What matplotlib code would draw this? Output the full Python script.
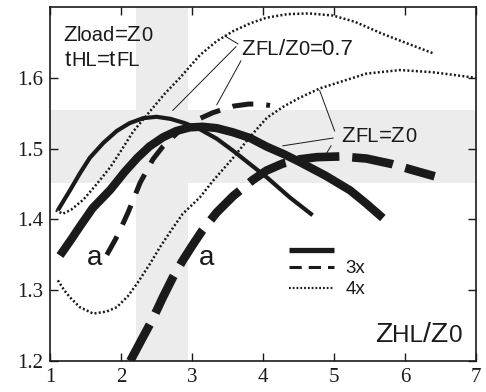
import matplotlib
matplotlib.use("Agg")
import matplotlib.pyplot as plt
from matplotlib.offsetbox import TextArea, HPacker, AnnotationBbox

plt.rcParams['font.family'] = 'serif'
plt.rcParams['font.serif'] = ['Liberation Serif', 'DejaVu Serif']

# ZFL/Z0 = 0.7, 3x (thin solid)
x_thin = [1.11, 1.28, 1.42, 1.56, 1.75, 1.94, 2.12, 2.31, 2.50, 2.70, 2.90, 3.10,
          3.35, 3.58, 3.82, 4.06, 4.38, 4.70]
y_thin = [1.413, 1.441, 1.465, 1.487, 1.508, 1.525, 1.536, 1.543, 1.545, 1.542, 1.536,
          1.528, 1.514, 1.497, 1.478, 1.459, 1.431, 1.406]

# ZFL = Z0, 3x (thick solid)
x_thick = [1.14, 1.30, 1.42, 1.60, 1.85, 2.05, 2.23, 2.40, 2.59, 2.78, 2.97, 3.15,
           3.35, 3.58, 3.82, 4.05, 4.30, 4.52, 4.88, 5.23, 5.45, 5.69]
y_thick = [1.349, 1.372, 1.390, 1.416, 1.442, 1.467, 1.487, 1.503, 1.516, 1.525, 1.530,
           1.531, 1.529, 1.523, 1.515, 1.503, 1.492, 1.481, 1.462, 1.441, 1.423, 1.402]

# ZFL/Z0 = 0.7, 3x "a" (medium dashed)
x_dash07 = [1.80, 1.95, 2.10, 2.27, 2.45, 2.59, 2.80, 3.01, 3.30, 3.58, 3.80, 3.96, 4.10]
y_dash07 = [1.350, 1.377, 1.410, 1.452, 1.485, 1.503, 1.523, 1.538, 1.551, 1.560, 1.563,
            1.563, 1.561]

# ZFL = Z0, 3x "a" (thick dashed)
x_dash1 = [2.13, 2.30, 2.45, 2.59, 2.73, 2.87, 3.01, 3.15, 3.35, 3.58, 3.86, 4.05, 4.28,
           4.52, 4.76, 5.10, 5.46, 5.83, 6.10, 6.42]
y_dash1 = [1.200, 1.232, 1.260, 1.290, 1.318, 1.342, 1.364, 1.385, 1.410, 1.433, 1.456,
           1.469, 1.479, 1.485, 1.488, 1.489, 1.486, 1.478, 1.470, 1.461]

# ZFL/Z0 = 0.7, 4x (dotted, upper)
x_dot07 = [1.08, 1.18, 1.30, 1.47, 1.65, 1.85, 2.00, 2.17, 2.41, 2.62, 2.83, 3.11, 3.35,
           3.58, 3.82, 4.05, 4.35, 4.65, 4.99, 5.30, 5.69, 6.05, 6.39]
y_dot07 = [1.413, 1.408, 1.414, 1.428, 1.449, 1.474, 1.497, 1.524, 1.553, 1.578, 1.600,
           1.632, 1.652, 1.666, 1.677, 1.685, 1.690, 1.691, 1.688, 1.679, 1.662, 1.648,
           1.635]

# ZFL = Z0, 4x (dotted, lower)
x_dot1 = [1.11, 1.20, 1.28, 1.42, 1.61, 1.80, 1.94, 2.10, 2.23, 2.40, 2.55, 2.71, 2.87,
          3.11, 3.30, 3.58, 3.82, 4.06, 4.30, 4.52, 4.80, 5.08, 5.46, 5.93, 6.39, 6.70,
          7.00]
y_dot1 = [1.314, 1.300, 1.290, 1.276, 1.267, 1.270, 1.276, 1.292, 1.310, 1.336, 1.361,
          1.385, 1.408, 1.431, 1.455, 1.487, 1.517, 1.544, 1.560, 1.572, 1.585, 1.594,
          1.606, 1.611, 1.608, 1.604, 1.600]

band_x = (2.21, 2.94)
band_y = (1.451, 1.554)

INK = '#1a1a1a'
SANS = 'Liberation Sans'
SERIF = 'Liberation Serif'


def sub_label(ax, parts, xy, big, small):
    kids = []
    for txt, is_sub in parts:
        kids.append(TextArea(txt, textprops=dict(fontsize=small if is_sub else big,
                                                 family=SANS, color=INK)))
    box = HPacker(children=kids, align='baseline', pad=0, sep=0)
    ab = AnnotationBbox(box, xy, xycoords='data', box_alignment=(0, 0),
                        frameon=False, pad=0, zorder=6)
    ax.add_artist(ab)


fig = plt.figure(figsize=(4.86, 3.92), dpi=100)
ax = fig.add_axes([0.103, 0.079, 0.876, 0.903])

ax.axvspan(*band_x, color='#ececec', lw=0, zorder=0)
ax.axhspan(*band_y, color='#ececec', lw=0, zorder=0)

ax.plot(x_dot07, y_dot07, color=INK, lw=1.8, ls=(0, (0.8, 0.9)), zorder=3)
ax.plot(x_dot1, y_dot1, color=INK, lw=1.8, ls=(0, (0.8, 0.9)), zorder=3)
ax.plot(x_thin, y_thin, color=INK, lw=3.0, solid_capstyle='butt', zorder=4)
ax.plot(x_thick, y_thick, color=INK, lw=6.0, solid_capstyle='butt', zorder=4)
ax.plot(x_dash07, y_dash07, color=INK, lw=3.6, ls=(0, (4.2, 2.6)),
        dash_capstyle='butt', zorder=4)
ax.plot(x_dash1, y_dash1, color=INK, lw=6.2, ls=(0, (4.8, 1.5)),
        dash_capstyle='butt', zorder=4)

# leader lines
lk = dict(color=INK, lw=0.7, zorder=5)
ax.plot([3.648, 3.465], [1.648, 1.659], **lk)
ax.plot([3.62, 2.73], [1.644, 1.554], **lk)
ax.plot([3.69, 3.35], [1.624, 1.562], **lk)
ax.plot([5.01, 4.80], [1.525, 1.582], **lk)
ax.plot([4.99, 4.28], [1.515, 1.504], **lk)
ax.plot([4.96, 4.90], [1.504, 1.494], **lk)

sub_label(ax, [('Z', 0), ('load', 1), ('=Z', 0), ('0', 1)], (1.18, 1.645), 16, 14.5)
sub_label(ax, [('t', 0), ('HL', 1), ('=t', 0), ('FL', 1)], (1.21, 1.610), 16, 14.5)
sub_label(ax, [('Z', 0), ('FL', 1), ('/Z', 0), ('0', 1), ('=0.7', 0)], (3.70, 1.625), 16, 14.5)
sub_label(ax, [('Z', 0), ('FL', 1), ('=Z', 0), ('0', 1)], (5.11, 1.502), 16, 14.5)
sub_label(ax, [('Z', 0), ('HL', 1), ('/Z', 0), ('0', 1)], (5.58, 1.219), 20.5, 17.5)

ax.text(1.63, 1.335, 'a', family=SANS, fontsize=20, color=INK, ha='center', va='baseline')
ax.text(3.21, 1.335, 'a', family=SANS, fontsize=20, color=INK, ha='center', va='baseline')

# legend
l_solid = plt.Line2D([], [], color=INK, lw=3.8, solid_capstyle='butt')
l_dash = plt.Line2D([], [], color=INK, lw=2.2, ls=(0, (4.0, 2.3)), dash_capstyle='butt')
l_dot = plt.Line2D([], [], color=INK, lw=1.6, ls=(0, (0.8, 0.9)))
leg1 = ax.legend([l_solid, l_dash], ['', '3x'], loc='upper left',
                 bbox_to_anchor=(0.54, 0.360), frameon=False, handlelength=2.4,
                 handleheight=0.4, labelspacing=0.0, handletextpad=0.6,
                 borderpad=0, prop=dict(family=SANS, size=13.5))
for t in leg1.get_texts():
    t.set_color(INK)
ax.add_artist(leg1)
leg2 = ax.legend([l_dot], ['4x'], loc='upper left', bbox_to_anchor=(0.54, 0.252),
                 frameon=False, handlelength=2.4, handletextpad=0.6, borderpad=0,
                 prop=dict(family=SANS, size=13.5))
for t in leg2.get_texts():
    t.set_color(INK)

ax.set_xlim(1, 7)
ax.set_ylim(1.2, 1.7)
ax.set_xticks([1, 2, 3, 4, 5, 6, 7])
ax.set_yticks([1.2, 1.3, 1.4, 1.5, 1.6])
ax.set_yticklabels(['1.2', '1.3', '1.4', '1.5', '1.6'])
ax.tick_params(direction='in', top=True, right=True, length=6, width=1.0,
               labelsize=15, pad=5, colors=INK)
for lbl in ax.get_xticklabels() + ax.get_yticklabels():
    lbl.set_fontfamily(SERIF)
for s in ax.spines.values():
    s.set_linewidth(1.2)
    s.set_color(INK)

fig.savefig('out.png', dpi=100)
